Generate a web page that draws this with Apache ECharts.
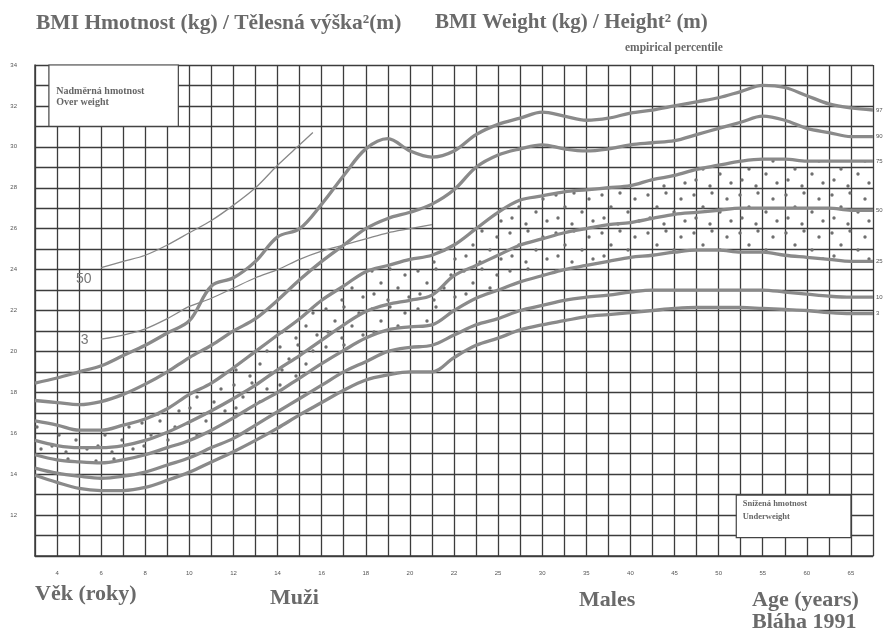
<!DOCTYPE html>
<html><head><meta charset="utf-8">
<script src="https://cdn.jsdelivr.net/npm/echarts@6/dist/echarts.min.js"></script>
<style>html,body{margin:0;padding:0;background:#fff}#c{width:886px;height:631px}</style>
</head><body><div id="c"></div>
<script>
// one category per grid line (index 0..38); tick labels give the age shown under each grid line
const xTickLabels = ['', '4', '', '6', '', '8', '', '10', '', '12', '', '14', '', '16', '', '18', '', '20', '', '22', '', '25', '', '30', '', '35', '', '40', '', '45', '', '50', '', '55', '', '60', '', '65', ''];
const yTickLabels = [12, 14, 16, 18, 20, 22, 24, 26, 28, 30, 32, 34];
const percentileNames = ['97', '90', '75', '50', '25', '10', '3'];

const p97 = [18.45,18.7,19.0,19.3,19.8,20.3,20.9,21.5,23.2,23.6,24.4,25.6,26.0,27.2,28.6,29.9,30.4,29.8,29.5,29.8,30.6,31.1,31.4,31.7,31.5,31.3,31.4,31.65,31.8,32.0,32.2,32.4,32.7,33.0,32.9,32.5,32.1,31.9,31.8];
const p90 = [17.6,17.5,17.4,17.55,17.9,18.4,19.0,19.7,20.3,21.0,21.6,22.5,23.5,24.4,25.2,26.0,26.5,26.8,27.2,27.9,29.0,29.6,29.9,30.1,29.9,29.8,29.9,30.1,30.2,30.3,30.6,30.9,31.2,31.5,31.3,30.9,30.7,30.5,30.5];
const p75 = [16.6,16.4,16.15,16.15,16.4,16.7,17.2,17.9,18.45,19.2,20.0,20.8,21.6,22.5,23.2,23.9,24.2,24.5,24.7,25.2,26.0,26.8,27.4,27.6,27.8,27.9,28.0,28.1,28.4,28.6,28.9,29.1,29.3,29.4,29.4,29.3,29.3,29.3,29.3];
const p50 = [15.65,15.4,15.3,15.3,15.4,15.65,16.05,16.55,17.1,17.7,18.35,19.1,19.8,20.55,21.3,21.95,22.3,22.5,22.75,23.7,24.2,24.7,25.2,25.5,25.8,26.0,26.2,26.3,26.5,26.7,26.8,26.9,27.0,27.0,27.0,27.0,27.0,26.9,26.9];
const p25 = [14.95,14.7,14.6,14.55,14.7,14.95,15.3,15.65,16.15,16.75,17.4,18.0,18.7,19.4,20.05,20.65,21.05,21.2,21.3,22.0,22.6,23.0,23.4,23.7,24.0,24.2,24.4,24.6,24.7,24.85,24.95,24.95,24.85,24.85,24.7,24.6,24.5,24.4,24.4];
const p10 = [14.3,14.05,13.9,13.8,13.9,14.1,14.45,14.8,15.3,15.75,16.4,17.05,17.7,18.35,19.0,19.5,20.0,20.2,20.3,20.8,21.3,21.6,22.0,22.25,22.5,22.65,22.75,22.9,23.0,23.0,23.0,23.0,23.0,23.0,22.9,22.8,22.7,22.65,22.65];
const p3  = [13.95,13.6,13.3,13.2,13.2,13.35,13.7,14.1,14.6,15.1,15.65,16.25,16.9,17.5,18.1,18.6,18.85,19.0,19.0,19.7,20.3,20.65,21.05,21.3,21.5,21.7,21.8,21.9,22.0,22.1,22.15,22.15,22.15,22.1,22.05,22.0,21.9,21.85,21.85];

// thin reference lines (labelled 50 and 3 on the left), x in grid-line index units
const thin50X = [3,4,5,6,7,8,9,10,11,12,12.6];
const thin50Y = [24.1,24.4,24.7,25.2,25.8,26.4,27.15,28.0,29.1,30.1,30.7];
const thin3X = [3,4,5,6,7,8,9,10,11,12,13,14,15,16,17,18];
const thin3Y = [20.6,20.8,21.1,21.6,22.2,22.6,23.1,23.6,24.0,24.5,24.9,25.2,25.5,25.8,26.0,26.2];

const idx = p97.map((_, i) => String(i));
const pair = (xs, ys) => ys.map((v, i) => [xs[i], v]);

// dotted fill pattern for the 25th-75th band
const pat = document.createElement('canvas');
pat.width = 46; pat.height = 38;
const pc = pat.getContext('2d');
pc.fillStyle = '#6f6f6f';
[[4,5],[22,3],[37,9],[13,17],[30,22],[6,28],[41,31],[20,34]].forEach(([x, y]) => {
  pc.beginPath(); pc.arc(x, y, 1.7, 0, Math.PI * 2); pc.fill();
});

const lineColor = '#8a8a8a';
const serif = '"Liberation Serif", "DejaVu Serif", serif';
const curves = [p97, p90, p75, p50, p25, p10, p3];
const SM = 0.35;

const series = curves.map((arr, k) => ({
  name: percentileNames[k], type: 'line', smooth: SM, symbol: 'none',
  data: arr, z: 5,
  lineStyle: { color: lineColor, width: 3.3 },
  endLabel: { show: true, formatter: '{a}', distance: 3, fontSize: 6, color: '#555', fontFamily: 'Arial' }
}));

series.push({
  name: 'bandBase', type: 'line', stack: 'band', smooth: SM, symbol: 'none', silent: true,
  data: p25, lineStyle: { width: 0, opacity: 0 }, z: 2
});
series.push({
  name: 'band', type: 'line', stack: 'band', smooth: SM, symbol: 'none', silent: true,
  data: p75.map((v, i) => +(v - p25[i]).toFixed(2)), lineStyle: { width: 0, opacity: 0 }, z: 2,
  areaStyle: { color: { image: pat, repeat: 'repeat' }, opacity: 1 }
});

const thinLabel = (txt, off) => ({
  symbol: 'circle', symbolSize: 1, itemStyle: { color: 'rgba(0,0,0,0)' },
  label: { show: true, formatter: txt, position: 'left', offset: off, fontSize: 14, color: '#777', fontFamily: 'Arial' }
});
series.push({
  name: 'thin50', type: 'line', xAxisIndex: 1, smooth: 0.3, symbol: 'none', z: 4,
  data: pair(thin50X, thin50Y), lineStyle: { color: '#888', width: 1.3 },
  markPoint: Object.assign(thinLabel('50', [-4, 12]), { data: [{ coord: [thin50X[0], thin50Y[0]] }] })
});
series.push({
  name: 'thin3', type: 'line', xAxisIndex: 1, smooth: 0.3, symbol: 'none', z: 4,
  data: pair(thin3X, thin3Y), lineStyle: { color: '#888', width: 1.3 },
  markPoint: Object.assign(thinLabel('3', [-7, 1]), { data: [{ coord: [thin3X[0], thin3Y[0]] }] })
});

// white boxes with labels
series.push({
  name: 'boxes', type: 'line', xAxisIndex: 1, data: [], z: 3,
  markArea: {
    silent: true,
    itemStyle: { color: '#fff', borderColor: '#444', borderWidth: 1.2 },
    label: { show: true, position: 'insideLeft', fontWeight: 'bold', fontFamily: serif, color: '#666' },
    data: [
      [{ coord: [0.63, 34], label: { formatter: 'Nadměrná hmotnost\nOver weight', fontSize: 10, lineHeight: 11, offset: [3, 1] } }, { coord: [6.5, 31] }],
      [{ coord: [31.8, 12.98], label: { formatter: 'Snížená hmotnost\nUnderweight', fontSize: 8.5, lineHeight: 13, offset: [2, -6] } }, { coord: [37, 10.9] }]
    ]
  }
});

const T = (text, left, top, size) => ({ text, left, top, padding: 0, textStyle: { fontFamily: serif, fontWeight: 'bold', fontSize: size, color: '#6a6a6a' } });

const chart = echarts.init(document.getElementById('c'));
chart.setOption({
  backgroundColor: '#fff',
  animation: false,
  title: [
    T('BMI Hmotnost (kg) / Tělesná výška²(m)', 36, 12, 21.5),
    T('BMI Weight (kg) / Height² (m)', 435, 12, 21),
    T('empirical percentile', 625, 42, 11.5),
    T('Věk (roky)', 35, 583, 22),
    T('Muži', 270, 587, 22),
    T('Males', 579, 589, 22),
    T('Age (years)', 752, 589, 22),
    T('Bláha 1991', 752, 611, 22)
  ],
  grid: { left: 35, right: 13, top: 65, bottom: 75 },
  xAxis: [{
    type: 'category', data: idx, boundaryGap: false,
    axisLine: { show: true, lineStyle: { color: '#3c3c3c', width: 1.5 } },
    axisTick: { show: false },
    splitLine: { show: true, interval: 0, lineStyle: { color: '#3c3c3c', width: 1.3 } },
    axisLabel: { interval: 0, formatter: (v, i) => xTickLabels[i] || '', fontSize: 6, color: '#555', margin: 14, fontFamily: 'Arial' }
  }, {
    type: 'value', min: 0, max: 38, show: false, position: 'bottom'
  }],
  yAxis: {
    type: 'value', min: 10, max: 34, interval: 1,
    axisLine: { show: true, lineStyle: { color: '#3c3c3c', width: 1.5 } },
    axisTick: { show: false },
    splitLine: { show: true, lineStyle: { color: '#3c3c3c', width: 1.3 } },
    axisLabel: { formatter: v => yTickLabels.includes(v) ? String(v) : '', fontSize: 6, color: '#555', margin: 18, fontFamily: 'Arial' }
  },
  series
});
</script></body></html>
